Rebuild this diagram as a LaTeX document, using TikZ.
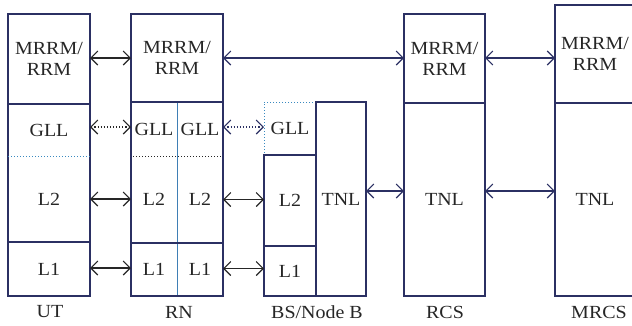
\documentclass[tikz,border=0pt]{standalone}
\usepackage{fontspec}
\setmainfont{Liberation Serif}[FakeStretch=1.08]
\usetikzlibrary{arrows.meta}
\definecolor{navy}{HTML}{2B3063}
\definecolor{lblue}{HTML}{3F7FB5}
\definecolor{dotblue}{HTML}{3A8AC0}
\definecolor{ink}{HTML}{262626}
\begin{document}
\begin{tikzpicture}[x=1pt,y=-1pt,
  font=\fontsize{18.5}{21}\selectfont,
  cell/.style={inner sep=0pt,outer sep=0pt,align=center,text=ink},
  framed/.style={draw=navy,line width=1.1pt},
  lbl/.style={inner sep=0pt,text=ink},
  tip/.tip={Straight Barb[length=7pt,width=14pt,line width=1.1pt]},
  arr/.style={tip-tip,line width=1.1pt},
  blk/.style={arr,draw=ink},
  nav/.style={arr,draw=navy},
  dotarr/.style={arr,draw=ink,dotted,line width=1.1pt}
]
\useasboundingbox (0,0) rectangle (632,325);
\clip (0,0) rectangle (632,325);
% ---------- UT ----------
\node[cell,framed,minimum width=82pt,minimum height=90pt] (utM) at (49,59) {MRRM/\\RRM};
\node[cell,minimum width=82pt,minimum height=52pt] (utG) at (49,130) {GLL};
\node[cell,minimum width=82pt,minimum height=86pt] (utL2) at (49,199) {L2};
\node[cell,framed,minimum width=82pt,minimum height=54pt] (utL1) at (49,269) {L1};
\draw[framed] (utG.north west) rectangle (utL2.south east);
\draw[dotblue,dotted,line width=1pt] (utG.south west) -- (utG.south east);
\node[lbl] (utLab) at (50,312) {UT};
% ---------- RN ----------
\node[cell,framed,minimum width=92pt,minimum height=88pt] (rnM) at (177,58) {MRRM/\\RRM};
\node[cell,minimum width=46pt,minimum height=54pt] (rnGa) at (154,129) {GLL};
\node[cell,minimum width=46pt,minimum height=54pt] (rnGb) at (200,129) {GLL};
\node[cell,minimum width=46pt,minimum height=87pt] (rnL2a) at (154,199.5) {L2};
\node[cell,minimum width=46pt,minimum height=87pt] (rnL2b) at (200,199.5) {L2};
\node[cell,minimum width=46pt,minimum height=53pt] (rnL1a) at (154,269.5) {L1};
\node[cell,minimum width=46pt,minimum height=53pt] (rnL1b) at (200,269.5) {L1};
\draw[lblue,line width=0.8pt] (rnGa.north east) -- (rnL1a.south east);
\draw[framed] (rnGa.north west) rectangle (rnL2b.south east);
\draw[framed] (rnL1a.north west) rectangle (rnL1b.south east);
\draw[ink,dotted,line width=1pt] ([xshift=2pt]rnGa.south west) -- ([xshift=-2pt]rnGb.south east);
\node[lbl] (rnLab) at (179,312) {RN};
% ---------- BS/Node B ----------
\node[cell,draw=dotblue,dotted,line width=1pt,minimum width=52pt,minimum height=53pt] (bsG) at (290,128.5) {GLL};
\node[cell,framed,minimum width=52pt,minimum height=91pt] (bsL2) at (290,200.5) {L2};
\node[cell,framed,minimum width=52pt,minimum height=50pt] (bsL1) at (290,271) {L1};
\node[cell,framed,minimum width=50pt,minimum height=194pt] (bsT) at (341,199) {TNL};
\node[lbl] (bsLab) at (317,312) {BS/Node B};
% ---------- RCS ----------
\node[cell,framed,minimum width=81pt,minimum height=89pt] (rcM) at (444.5,58.5) {MRRM/\\RRM};
\node[cell,framed,minimum width=81pt,minimum height=193pt] (rcT) at (444.5,199.5) {TNL};
\node[lbl] (rcLab) at (445,312) {RCS};
% ---------- MRCS ----------
\node[cell,framed,minimum width=80pt,minimum height=98pt] (mcM) at (595,54) {MRRM/\\RRM};
\node[cell,framed,minimum width=80pt,minimum height=193pt] (mcT) at (595,199.5) {TNL};
\node[lbl] (mcLab) at (599,312) {MRCS};
% ---------- connectors ----------
\draw[blk] ([yshift=1pt]utM.east) -- ([yshift=1pt]utM.east -| rnM.west);
\draw[dotarr] ([yshift=3pt]utG.east) -- ([yshift=3pt]utG.east -| rnGa.west);
\draw[blk] (utL2.east) -- (utL2.east -| rnL2a.west);
\draw[blk] ([yshift=1pt]utL1.east) -- ([yshift=1pt]utL1.east -| rnL1a.west);
\draw[dotarr,draw=navy] ([yshift=2pt]rnGb.east) -- ([yshift=2pt]rnGb.east -| bsG.west);
\draw[blk] (rnL2b.east) -- (rnL2b.east -| bsL2.west);
\draw[blk] ([yshift=1pt]rnL1b.east) -- ([yshift=1pt]rnL1b.east -| bsL1.west);
\draw[nav] (rnM.east) -- (rnM.east -| rcM.west);
\draw[nav] ([yshift=8pt]bsT.east) -- ([yshift=8pt]bsT.east -| rcT.west);
\draw[nav] ([yshift=0.5pt]rcM.east) -- ([yshift=0.5pt]rcM.east -| mcM.west);
\draw[nav] ([yshift=8.5pt]rcT.east) -- ([yshift=8.5pt]rcT.east -| mcT.west);
\end{tikzpicture}
\end{document}
